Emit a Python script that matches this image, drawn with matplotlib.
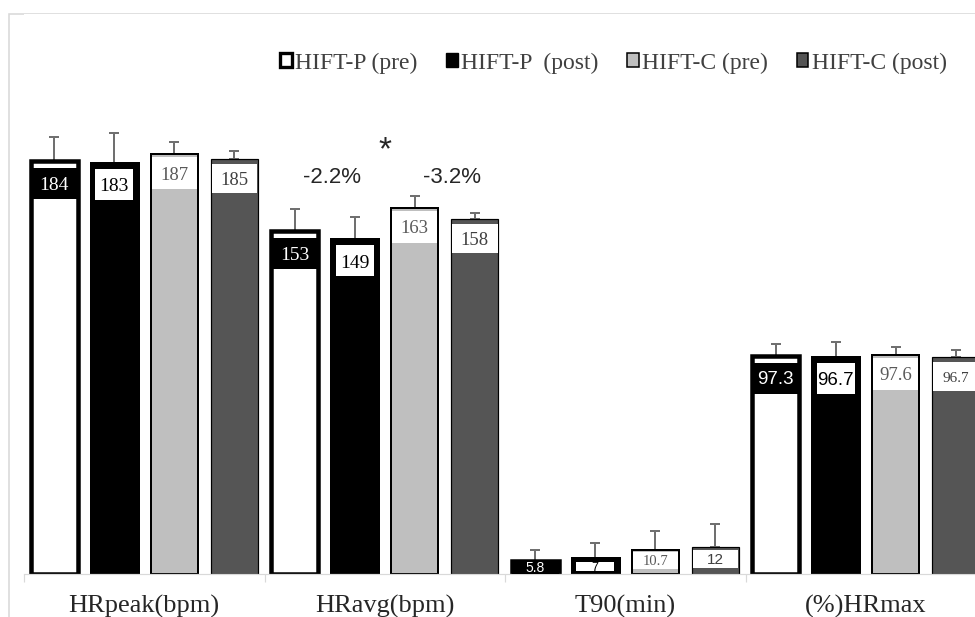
import matplotlib
matplotlib.use('Agg')
import matplotlib.pyplot as plt
from matplotlib.patches import Rectangle, Patch

# ---------------- data ----------------
categories = ['HRpeak(bpm)', 'HRavg(bpm)', 'T90(min)', '(%)HRmax']
series_names = ['HIFT-P (pre)', 'HIFT-P  (post)', 'HIFT-C (pre)', 'HIFT-C (post)']
hift_p_pre = [184, 153, 5.8, 97.3]
hift_p_post = [183, 149, 7, 96.7]
hift_c_pre = [187, 163, 10.7, 97.6]
hift_c_post = [185, 158, 12, 96.7]
sd_p_pre = [10.6, 9.6, 4.9, 5.2]
sd_p_post = [13.3, 9.9, 6.7, 6.6]
sd_c_pre = [5.6, 5.5, 8.6, 3.7]
sd_c_post = [3.6, 2.7, 10.2, 3.1]
annot_texts = ['-2.2%', '*', '-3.2%']

values = [hift_p_pre, hift_p_post, hift_c_pre, hift_c_post]
sds = [sd_p_pre, sd_p_post, sd_c_pre, sd_c_post]

# ---------------- style ----------------
W, H, DPI = 975, 617, 100
PX = 72.0 / DPI  # points per pixel
fills = ['white', 'black', '#bfbfbf', '#555555']
edge_lw_px = [4.5, 3.0, 2.0, 1.2]
box_face = ['black', 'white', 'white', 'white']
txt_col = ['white', 'black', '#595959', '#404040']
box_inset_px = [0.0, 4.5, 1.0, 0.6]
# box offset from bar top / box height (px), per group, per series
box_off = [[7, 6, 3, 5], [7, 6, 3, 5], [0, 3.5, 2, 3], [7, 6, 3, 5]]
box_h = [[31, 31, 32, 29], [31, 31, 32, 29], [40, 9, 17, 18], [31, 31, 32, 29]]
lab_fs = [[14, 14, 13.5, 13.5], [14, 14, 13.5, 13.5], [10, 9, 10.5, 11], [13.5, 13.5, 13.5, 11]]
lab_fam = [['Liberation Serif'] * 4, ['Liberation Serif'] * 4,
           ['Liberation Sans', 'Liberation Sans', 'Liberation Serif', 'Liberation Sans'],
           ['Liberation Sans', 'Liberation Sans', 'Liberation Serif', 'Liberation Serif']]

ax_left, ax_right, ax_top, ax_bot = 24, 986, 14, 574
ppu = 2.245  # px per unit
ytop = (ax_bot - ax_top) / ppu
grp_px = (ax_right - ax_left) / 4.0
bar_w = 0.195
offsets = [-0.375, -0.125, 0.125, 0.375]

fig = plt.figure(figsize=(W / DPI, H / DPI), dpi=DPI)
ax = fig.add_axes([ax_left / W, 1 - ax_bot / H, (ax_right - ax_left) / W, (ax_bot - ax_top) / H])
ax.set_xlim(-0.5, 3.5)
ax.set_ylim(0, ytop)

# outer light frame
fig.add_artist(Rectangle((8.5 / W, -0.2), 2, 1.2 - 13.5 / H, transform=fig.transFigure,
                         fill=False, edgecolor='#d9d9d9', linewidth=1.6 * PX, zorder=0))

u_per_px = 1.0 / ppu
x_per_px = 1.0 / grp_px

for s in range(4):
    xs = [g + offsets[s] for g in range(4)]
    ax.errorbar(xs, values[s], yerr=[[0] * 4, sds[s]], fmt='none', ecolor='#707070',
                elinewidth=2 * PX, capsize=3.3, capthick=2 * PX, zorder=1)
    ax.bar(xs, values[s], width=bar_w, color=fills[s], edgecolor='black',
           linewidth=edge_lw_px[s] * PX, zorder=2)
    for g in range(4):
        v = values[s][g]
        top = v
        b_top = top - box_off[g][s] * u_per_px
        b_bot = max(b_top - box_h[g][s] * u_per_px, 0.5 * u_per_px)
        inset = box_inset_px[s] * x_per_px
        x0 = xs[g] - bar_w / 2 + inset
        ax.add_patch(Rectangle((x0, b_bot), bar_w - 2 * inset, b_top - b_bot,
                               facecolor=box_face[s], edgecolor='none', zorder=3))
        fs = lab_fs[g][s]
        ax.annotate('{:g}'.format(v), xy=(xs[g], (b_top + b_bot) / 2),
                    xytext=(0, -0.34 * fs), textcoords='offset points',
                    ha='center', va='baseline', fontsize=fs, color=txt_col[s],
                    family=lab_fam[g][s], zorder=4)

# annotations above HRavg
ax.text(0.75 + 0.03, (ax_bot - 183) / ppu, annot_texts[0], ha='center', va='baseline',
        fontsize=16, family='Liberation Sans', color='#262626')
ax.text(1.0, (ax_bot - 159) / ppu, annot_texts[1], ha='center', va='baseline',
        fontsize=24, family='Liberation Sans', color='#262626')
ax.text(1.25 + 0.03, (ax_bot - 183) / ppu, annot_texts[2], ha='center', va='baseline',
        fontsize=16, family='Liberation Sans', color='#262626')

# axes styling
for sp in ['top', 'left', 'right']:
    ax.spines[sp].set_visible(False)
ax.spines['bottom'].set_color('#d9d9d9')
ax.spines['bottom'].set_linewidth(1.2 * PX)
ax.set_yticks([])
ax.set_xticks([-0.5, 0.5, 1.5, 2.5, 3.5])
ax.set_xticklabels([])
ax.set_xticks([0, 1, 2, 3], minor=True)
ax.set_xticklabels(categories, minor=True, fontsize=19, family='Liberation Serif', color='#262626')
ax.tick_params(axis='x', which='major', length=8 * PX, width=1.2 * PX, color='#d9d9d9')
ax.tick_params(axis='x', which='minor', length=0, pad=15)

# legend
handles = [Patch(facecolor=fills[i], edgecolor='black', linewidth=[2.4, 1.0, 1.1, 1.1][i])
           for i in range(4)]
fig.legend(handles, series_names, loc='center left', bbox_to_anchor=(280 / W, 1 - 63 / H),
           ncol=4, frameon=False, prop={'family': 'Liberation Serif', 'size': 17},
           labelcolor='#404040', handlelength=0.5, handleheight=0.55, handletextpad=0.15,
           columnspacing=1.2, borderpad=0, borderaxespad=0)

fig.savefig('out.png', dpi=DPI)
